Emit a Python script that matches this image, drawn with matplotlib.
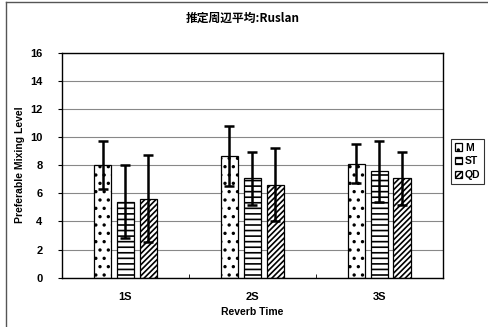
import numpy as np
import matplotlib.pyplot as plt
from matplotlib.lines import Line2D

plt.rcParams['font.family'] = ['Liberation Sans', 'Noto Sans CJK JP', 'DejaVu Sans']
plt.rcParams['hatch.linewidth'] = 1.2

categories = ['1S', '2S', '3S']
series = ['M', 'ST', 'QD']
means = {
    'M': [8.0, 8.65, 8.1],
    'ST': [5.4, 7.05, 7.55],
    'QD': [5.6, 6.6, 7.05],
}
errs = {
    'M': [1.7, 2.1, 1.4],
    'ST': [2.6, 1.9, 2.2],
    'QD': [3.1, 2.6, 1.9],
}
hatches = {'M': '..', 'ST': '---', 'QD': '//////'}

fig = plt.figure(figsize=(4.88, 3.27), dpi=100)
ax = fig.add_axes([0.127, 0.151, 0.78, 0.688])

x = np.arange(len(categories))
offsets = [-0.18, 0.0, 0.18]
width = 0.135
for s, off in zip(series, offsets):
    ax.bar(x + off, means[s], width, color='white', edgecolor='black',
           hatch=hatches[s], linewidth=0.9, zorder=2)
    ax.errorbar(x + off, means[s], yerr=errs[s], fmt='none', ecolor='black',
                elinewidth=1.8, capsize=3.5, capthick=1.8, zorder=3)

ax.set_xlim(-0.5, 2.5)
ax.set_ylim(0, 16)
ax.set_yticks(range(0, 17, 2))
ax.set_xticks(x)
ax.set_xticklabels(categories)
ax.set_xticks([0.5, 1.5], minor=True)
ax.tick_params(axis='x', which='major', length=0, pad=10)
ax.tick_params(axis='x', which='minor', length=3, direction='in')
ax.tick_params(axis='y', length=3, pad=11)
for lab in ax.get_xticklabels() + ax.get_yticklabels():
    lab.set_fontsize(8)
    lab.set_fontweight('bold')
ax.yaxis.grid(True, color='#888888', linewidth=0.8, zorder=0)
ax.set_axisbelow(True)
for sp in ax.spines.values():
    sp.set_linewidth(1.0)
    sp.set_color('black')

ax.set_xlabel('Reverb Time', fontsize=7.5, fontweight='bold', labelpad=4)
ax.set_ylabel('Preferable Mixing Level', fontsize=7.5, fontweight='bold', labelpad=4)
fig.text(0.498, 0.945, '推定周辺平均:Ruslan', ha='center', va='center',
         fontsize=8.5, fontweight='bold',
         family=['Noto Sans CJK JP', 'Liberation Sans'])

# legend
handles = [plt.Rectangle((0, 0), 1, 1, facecolor='white', edgecolor='black',
                         hatch=hatches[s], linewidth=0.9) for s in series]
leg = fig.legend(handles, series, loc='center', bbox_to_anchor=(0.958, 0.507),
                 frameon=True, fancybox=False, edgecolor='black',
                 prop={'size': 7.5, 'weight': 'bold'}, handlelength=0.7,
                 handleheight=0.7, handletextpad=0.3, labelspacing=0.35,
                 borderpad=0.35, borderaxespad=0)
leg.get_frame().set_linewidth(0.8)

# outer chart border
fig.add_artist(Line2D([0.012, 0.012], [0.0, 0.994], color='#555555', lw=1.0))
fig.add_artist(Line2D([0.012, 1.0], [0.994, 0.994], color='#555555', lw=1.0))

fig.savefig('out.png', dpi=100)
